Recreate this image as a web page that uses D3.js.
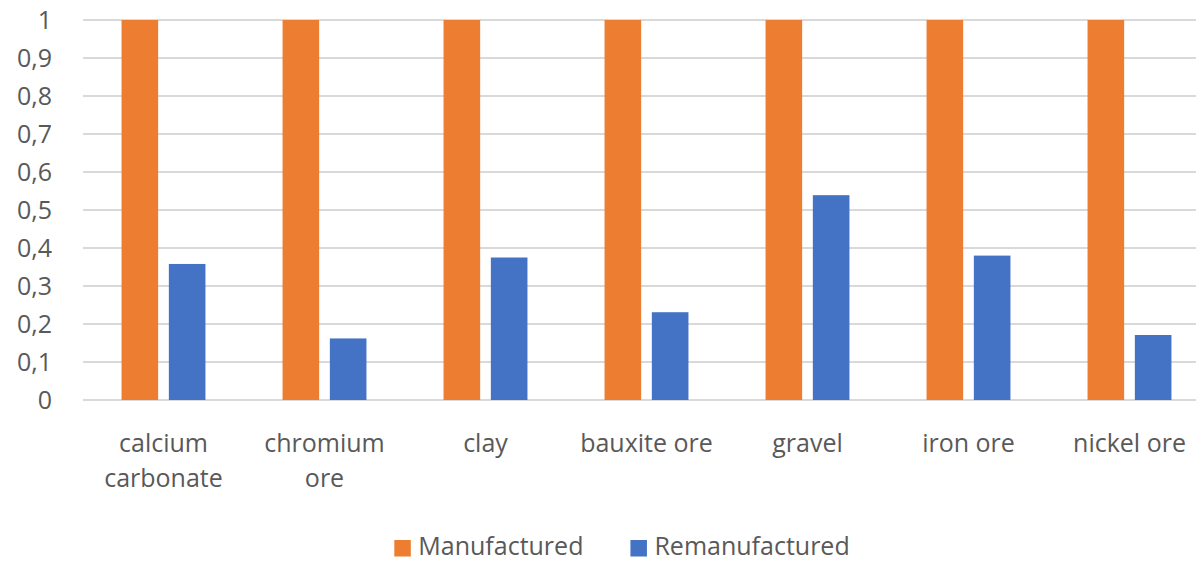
<!DOCTYPE html>
<html>
<head>
<meta charset="utf-8">
<script src="https://cdn.jsdelivr.net/npm/d3@7"></script>
<style>
  html, body { margin: 0; padding: 0; background: #ffffff; }
  svg { display: block; }
  text { font-family: "Open Sans", "Noto Sans", sans-serif; fill: #595959; }
</style>
</head>
<body>
<svg id="chart" width="1196" height="562"></svg>
<script>
// Categories (raw materials) and the two series
const categories = ["calcium carbonate", "chromium ore", "clay", "bauxite ore", "gravel", "iron ore", "nickel ore"];
const seriesNames = ["Manufactured", "Remanufactured"];
const manufactured = [1, 1, 1, 1, 1, 1, 1];
const remanufactured = [0.358, 0.162, 0.375, 0.231, 0.539, 0.380, 0.171];
const yTicks = [0, 0.1, 0.2, 0.3, 0.4, 0.5, 0.6, 0.7, 0.8, 0.9, 1];
const colors = ["#ED7D31", "#4472C4"];

const svg = d3.select("#chart");
const plot = { left: 83, right: 1210, top: 20, bottom: 400 };
const fontSize = 25;

const rows = categories.map((c, i) => ({ cat: c, values: [manufactured[i], remanufactured[i]] }));

const x0 = d3.scaleBand().domain(categories).range([plot.left, plot.right]).paddingInner(0).paddingOuter(0);
const x1 = d3.scaleBand().domain(seriesNames).range([0, x0.bandwidth()]).paddingInner(0.226).paddingOuter(0.815);
const y = d3.scaleLinear().domain([0, 1]).range([plot.bottom, plot.top]);

// Horizontal gridlines
svg.append("g")
  .selectAll("line")
  .data(yTicks)
  .join("line")
  .attr("x1", plot.left)
  .attr("x2", plot.right)
  .attr("y1", d => y(d))
  .attr("y2", d => y(d))
  .attr("stroke", "#d9d9d9")
  .attr("stroke-width", 2);

// Y-axis labels with decimal comma
const fmt = d => d === 0 ? "0" : d === 1 ? "1" : d3.format(".1f")(d).replace(".", ",");
const yAxis = d3.axisLeft(y).tickValues(yTicks).tickFormat(fmt).tickSize(0).tickPadding(0);
const gy = svg.append("g").attr("transform", "translate(52,0)").call(yAxis);
gy.select(".domain").remove();
gy.selectAll("text")
  .attr("font-size", fontSize)
  .style("font-family", "'Open Sans', sans-serif")
  .attr("fill", "#595959");

// Grouped bars
const groups = svg.append("g")
  .selectAll("g")
  .data(rows)
  .join("g")
  .attr("transform", d => `translate(${x0(d.cat)},0)`);

groups.selectAll("rect")
  .data(d => d.values.map((v, k) => ({ key: seriesNames[k], v, k })))
  .join("rect")
  .attr("x", d => x1(d.key))
  .attr("width", x1.bandwidth())
  .attr("y", d => y(d.v))
  .attr("height", d => y(0) - y(d.v))
  .attr("fill", d => colors[d.k]);

// Category labels, wrapped to the band width
const labelMax = 156;
const catG = svg.append("g");
categories.forEach(c => {
  const cx = x0(c) + x0.bandwidth() / 2;
  const t = catG.append("text")
    .attr("x", cx)
    .attr("y", 452)
    .attr("text-anchor", "middle")
    .attr("font-size", fontSize);
  const words = c.split(" ");
  let line = [];
  let lineNo = 0;
  let tspan = t.append("tspan").attr("x", cx).attr("y", 452);
  words.forEach(w => {
    line.push(w);
    tspan.text(line.join(" "));
    if (tspan.node().getComputedTextLength() > labelMax && line.length > 1) {
      line.pop();
      tspan.text(line.join(" "));
      line = [w];
      lineNo++;
      tspan = t.append("tspan").attr("x", cx).attr("y", 452 + lineNo * 35).text(w);
    }
  });
});

// Legend
const legend = svg.append("g");
let lx = 0;
seriesNames.forEach((name, k) => {
  const g = legend.append("g").attr("transform", `translate(${lx},0)`);
  g.append("rect").attr("x", 0).attr("y", 540).attr("width", 16.5).attr("height", 16.5).attr("fill", colors[k]);
  const t = g.append("text").attr("x", 24).attr("y", 555).attr("font-size", fontSize).text(name);
  lx += 24 + t.node().getComputedTextLength() + 47;
});
const lw = legend.node().getBBox().width;
legend.attr("transform", `translate(${622 - lw / 2},0)`);
</script>
</body>
</html>
